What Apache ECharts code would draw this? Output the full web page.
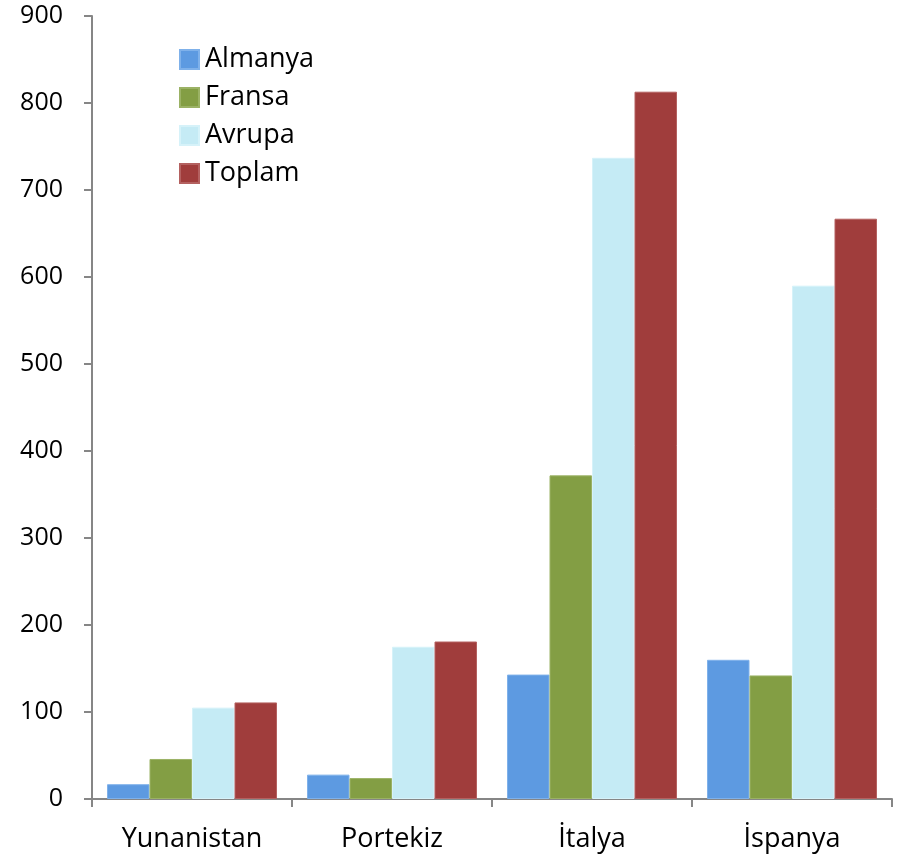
<!DOCTYPE html>
<html>
<head>
<meta charset="utf-8">
<script src="https://cdn.jsdelivr.net/npm/echarts@6/dist/echarts.min.js"></script>
<style>
  html, body { margin: 0; padding: 0; background: #ffffff; }
  #chart { width: 909px; height: 858px; }
</style>
</head>
<body>
<div id="chart"></div>
<script>
// Countries on the category axis
const countries = ['Yunanistan', 'Portekiz', 'İtalya', 'İspanya'];

// Series values per country
const almanya = [17, 28, 143, 160];
const fransa  = [46, 24, 372, 142];
const avrupa  = [105, 175, 737, 590];
const toplam  = [111, 181, 813, 667];

// Value axis range
const yMin = 0;
const yMax = 900;
const yStep = 100;

const FONT = '"Open Sans", "Noto Sans", sans-serif';

const chart = echarts.init(document.getElementById('chart'), null, { renderer: 'canvas' });

function bar(name, data, color, border) {
  return {
    name: name,
    type: 'bar',
    data: data,
    barGap: '0%',
    barCategoryGap: '15%',
    itemStyle: { color: color, borderColor: border, borderWidth: 1 },
    emphasis: { disabled: true }
  };
}

chart.setOption({
  animation: false,
  backgroundColor: '#ffffff',
  textStyle: { fontFamily: FONT },
  grid: { left: 92, right: 17, top: 16, bottom: 59, containLabel: false },
  legend: {
    orient: 'vertical',
    left: 179,
    top: 46,
    padding: 0,
    itemWidth: 19,
    itemHeight: 19,
    itemGap: 11,
    icon: 'rect',
    textStyle: { fontFamily: FONT, fontSize: 27, lineHeight: 27, color: '#000000', padding: [0, 0, 0, 1] },
    data: ['Almanya', 'Fransa', 'Avrupa', 'Toplam']
  },
  xAxis: {
    type: 'category',
    data: countries,
    axisLine: { lineStyle: { color: '#868686', width: 2 } },
    axisTick: { show: true, alignWithLabel: false, length: 8, lineStyle: { color: '#868686', width: 2 } },
    axisLabel: { fontFamily: FONT, fontSize: 27, color: '#000000', margin: 27 },
    splitLine: { show: false }
  },
  yAxis: {
    type: 'value',
    min: yMin,
    max: yMax,
    interval: yStep,
    axisLine: { show: true, lineStyle: { color: '#868686', width: 2 } },
    axisTick: { show: true, length: 8, lineStyle: { color: '#868686', width: 2 } },
    axisLabel: { fontFamily: FONT, fontSize: 25, color: '#000000', margin: 29 },
    splitLine: { show: false }
  },
  series: [
    bar('Almanya', almanya, '#5d9ae1', '#7fb1ea'),
    bar('Fransa', fransa, '#839e44', '#9bb265'),
    bar('Avrupa', avrupa, '#c5ebf5', '#d6f2f9'),
    bar('Toplam', toplam, '#a03d3c', '#b46160')
  ]
});
</script>
</body>
</html>
